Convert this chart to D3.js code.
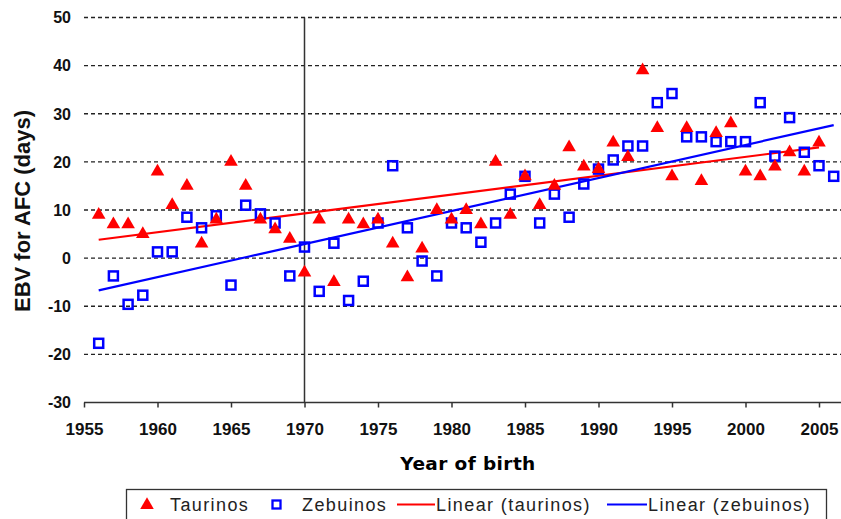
<!DOCTYPE html>
<html>
<head>
<meta charset="utf-8">
<script src="https://cdn.jsdelivr.net/npm/d3@7"></script>
<style>
  body { margin: 0; background: #fff; }
  svg { display: block; font-family: "Liberation Sans", Arial, sans-serif; }
</style>
</head>
<body>
<svg width="841" height="519"></svg>
<script>
const taurinosYears = d3.range(1956, 2006);
const taurinos = [
  9, 7, 7, 5, 18, 11, 15, 3, 8, 20,
  15, 8, 6, 4, -3, 8, -5, 8, 7, 8,
  3, -4, 2, 10, 8, 10, 7, 20, 9, 17,
  11, 15, 23, 19, 18.5, 24, 21, 39, 27, 17,
  27, 16, 26, 28, 18, 17, 19, 22, 18, 24
];
const zebuinosYears = d3.range(1956, 2007);
const zebuinos = [
  -17.7, -3.7, -9.6, -7.7, 1.3, 1.3, 8.5, 6.3, 8.8, -5.6,
  11, 9.2, 7.3, -3.7, 2.3, -6.9, 3.1, -8.8, -4.8, 7.3,
  19.2, 6.3, -0.6, -3.7, 7.3, 6.3, 3.3, 7.3, 13.3, 17,
  7.3, 13.3, 8.5, 15.4, 18.5, 20.4, 23.3, 23.3, 32.3, 34.2,
  25.2, 25.2, 24.2, 24.2, 24.2, 32.3, 21.2, 29.2, 22, 19.2,
  17
];
const xTicks = d3.range(1955, 2006, 5);
const yTicks = [-30, -20, -10, 0, 10, 20, 30, 40, 50];
const legendLabels = ["Taurinos", "Zebuinos", "Linear (taurinos)", "Linear (zebuinos)"];

const svg = d3.select("svg");
const x = d3.scaleLinear().domain([1955, 2005]).range([84, 819]);
const y = d3.scaleLinear().domain([-30, 50]).range([402.5, 17.5]);

// least squares trend, like the spreadsheet's "Linear" trendline
function fit(xs, ys) {
  const mx = d3.mean(xs), my = d3.mean(ys);
  const b = d3.sum(xs, (v, i) => (v - mx) * (ys[i] - my)) / d3.sum(xs, (v) => (v - mx) ** 2);
  return (t) => my + b * (t - mx);
}

// gridlines
svg.append("g")
  .selectAll("line")
  .data(yTicks.filter((d) => d > -30))
  .enter()
  .append("line")
  .attr("x1", x(1955))
  .attr("x2", 841)
  .attr("y1", (d) => y(d))
  .attr("y2", (d) => y(d))
  .attr("stroke", "#222")
  .attr("stroke-width", 1.3)
  .attr("stroke-dasharray", "4,3");

// x axis
const xAxis = svg.append("g")
  .attr("transform", `translate(0,${y(-30)})`)
  .call(d3.axisBottom(x).tickValues(xTicks).tickFormat(d3.format("d")).tickSize(5).tickSizeOuter(0));
xAxis.select(".domain").attr("stroke", "#333").attr("stroke-width", 1.5).attr("d", `M${x(1955)},0H841`);
xAxis.selectAll(".tick line").attr("stroke", "#333").attr("stroke-width", 1.5);
xAxis.selectAll("text")
  .attr("font-family", "Liberation Sans, Arial, sans-serif")
  .attr("font-size", 17)
  .attr("font-weight", "bold")
  .attr("fill", "#111")
  .attr("dy", "1.45em");

// y tick labels (no axis line)
svg.append("g")
  .selectAll("text")
  .data(yTicks)
  .enter()
  .append("text")
  .attr("x", 71)
  .attr("y", (d) => y(d))
  .attr("dy", "0.36em")
  .attr("text-anchor", "end")
  .attr("font-size", 16)
  .attr("font-weight", "bold")
  .attr("fill", "#111")
  .text((d) => d);

// vertical line at 1970
svg.append("line")
  .attr("x1", x(1970))
  .attr("x2", x(1970))
  .attr("y1", y(50))
  .attr("y2", y(-30))
  .attr("stroke", "#333")
  .attr("stroke-width", 1.5);

// trend lines
const tFit = fit(taurinosYears, taurinos);
const zFit = fit(zebuinosYears, zebuinos);
svg.append("line")
  .attr("x1", x(1956)).attr("y1", y(tFit(1956)))
  .attr("x2", x(2005)).attr("y2", y(tFit(2005)))
  .attr("stroke", "#ff0000")
  .attr("stroke-width", 2.2);
svg.append("line")
  .attr("x1", x(1956)).attr("y1", y(zFit(1956)))
  .attr("x2", x(2006)).attr("y2", y(zFit(2006)))
  .attr("stroke", "#0000ff")
  .attr("stroke-width", 2.2);

const tri = d3.symbol().type(d3.symbolTriangle).size(80);

// zebuinos squares
svg.append("g")
  .selectAll("rect")
  .data(zebuinos)
  .enter()
  .append("rect")
  .attr("x", (d, i) => x(zebuinosYears[i]) - 4.5)
  .attr("y", (d) => y(d) - 4.5)
  .attr("width", 9)
  .attr("height", 9)
  .attr("fill", "none")
  .attr("stroke", "#0000ff")
  .attr("stroke-width", 2.5);

// taurinos triangles
svg.append("g")
  .selectAll("path")
  .data(taurinos)
  .enter()
  .append("path")
  .attr("d", tri)
  .attr("transform", (d, i) => `translate(${x(taurinosYears[i])},${y(d)})`)
  .attr("fill", "#ff0000");

// axis titles
svg.append("text")
  .attr("transform", "translate(30,211) rotate(-90)")
  .attr("text-anchor", "middle")
  .attr("font-size", 22)
  .attr("font-weight", "bold")
  .attr("fill", "#111")
  .text("EBV for AFC (days)");

svg.append("text")
  .attr("x", 468)
  .attr("y", 470)
  .attr("text-anchor", "middle")
  .attr("font-family", "DejaVu Sans, sans-serif")
  .attr("font-size", 18.5)
  .attr("font-weight", "bold")
  .attr("letter-spacing", 0.4)
  .attr("fill", "#000")
  .text("Year of birth");

// legend
const legend = svg.append("g");
legend.append("rect")
  .attr("x", 126.5)
  .attr("y", 489.5)
  .attr("width", 700)
  .attr("height", 40)
  .attr("fill", "#fff")
  .attr("stroke", "#333")
  .attr("stroke-width", 1.3);
legend.append("path")
  .attr("d", tri)
  .attr("transform", "translate(147,505)")
  .attr("fill", "#ff0000");
legend.append("rect")
  .attr("x", 272.5).attr("y", 500.5)
  .attr("width", 8).attr("height", 8)
  .attr("fill", "none")
  .attr("stroke", "#0000ff")
  .attr("stroke-width", 2.3);
legend.append("line")
  .attr("x1", 397).attr("x2", 435).attr("y1", 504.5).attr("y2", 504.5)
  .attr("stroke", "#ff0000").attr("stroke-width", 2.2);
legend.append("line")
  .attr("x1", 607).attr("x2", 647).attr("y1", 504.5).attr("y2", 504.5)
  .attr("stroke", "#0000ff").attr("stroke-width", 2.2);
const legendX = [170, 302, 436, 648];
legend.selectAll("text.lbl")
  .data(legendLabels)
  .enter()
  .append("text")
  .attr("class", "lbl")
  .attr("x", (d, i) => legendX[i])
  .attr("y", 511)
  .attr("font-size", 18)
  .attr("letter-spacing", 1.4)
  .attr("fill", "#222")
  .text((d) => d);
</script>
</body>
</html>
